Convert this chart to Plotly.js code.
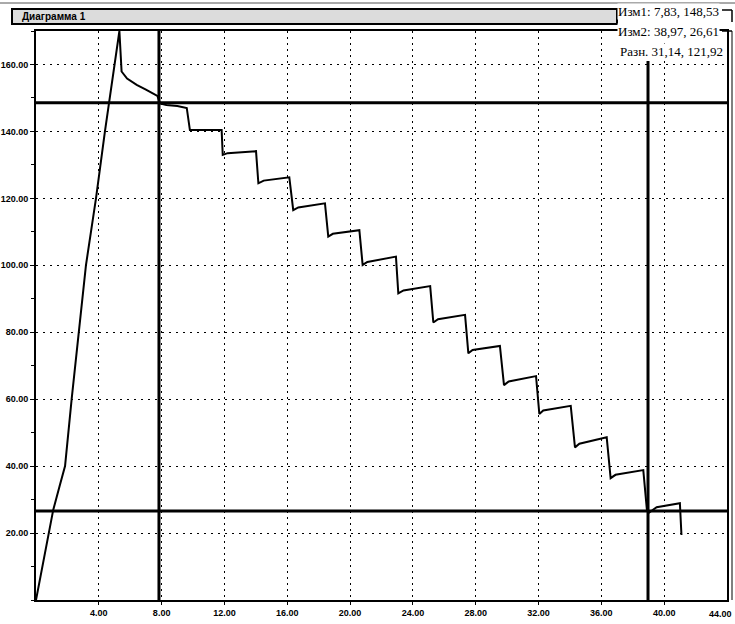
<!DOCTYPE html>
<html>
<head>
<meta charset="utf-8">
<script src="https://cdn.plot.ly/plotly-3.0.1.min.js"></script>
<style>html,body{margin:0;padding:0;background:#fff;}#chart{width:735px;height:624px;}</style>
</head>
<body>
<div id="chart"></div>
<script>
// ---- data ----
const timeVals = [0, 0.4, 0.78, 1.1, 1.5, 1.85, 2.27, 2.74, 3.18, 3.82, 4.39, 5.31, 5.45, 5.8, 6.41, 7.0, 7.47, 7.73, 7.9, 8.3, 9.0, 9.6, 9.8, 11.82, 11.89, 12.2, 14.01, 14.16, 14.5, 16.13, 16.38, 16.7, 18.4, 18.61, 18.9, 20.59, 20.8, 21.1, 22.92, 23.07, 23.4, 25.1, 25.3, 25.6, 27.32, 27.53, 27.8, 29.54, 29.8, 30.1, 31.84, 32.05, 32.3, 34.05, 34.32, 34.6, 36.34, 36.59, 36.9, 38.67, 38.9, 39.0, 39.52, 41.0, 41.1];
const forceVals = [0, 10, 20, 27, 34, 40, 60, 80, 100, 120, 140, 170, 157.9, 155.8, 153.9, 152.5, 151.4, 150.6, 148.4, 147.9, 147.6, 147.0, 140.4, 140.4, 133.0, 133.5, 134.1, 124.5, 125.3, 126.3, 116.5, 117.3, 118.5, 108.6, 109.4, 110.5, 100.1, 101.0, 102.6, 91.6, 92.5, 93.8, 82.9, 83.9, 85.2, 73.7, 74.7, 75.9, 64.2, 65.3, 66.9, 55.6, 56.6, 58.0, 45.6, 46.7, 48.6, 36.4, 37.4, 38.8, 26.9, 26.0, 27.7, 28.9, 19.4];
const cursorX = [7.83, 38.97];
const cursorY = [148.53, 26.61];
const cursorNames = ['Изм1', 'Изм2', 'Разн.'];
const xTicks = [4, 8, 12, 16, 20, 24, 28, 32, 36, 40, 44];
const yTicks = [20, 40, 60, 80, 100, 120, 140, 160];
const chartTitle = 'Диаграмма 1';

// ---- geometry helpers (pixel -> paper) ----
const L = 36, R = 727, T = 31, B = 600;
const px = x => (x - L) / (R - L);
const py = y => (B - y) / (B - T);
const fmt = v => v.toFixed(2).replace('.', ',');

const trace = {
  x: timeVals, y: forceVals, type: 'scatter', mode: 'lines',
  line: {color: '#000', width: 2}, hoverinfo: 'skip', cliponaxis: true
};

const blk = '#000';
const shapes = [
  {type: 'line', xref: 'x', yref: 'y', x0: cursorX[0], x1: cursorX[0], y0: 0, y1: 170, line: {color: blk, width: 3}},
  {type: 'line', xref: 'x', yref: 'y', x0: cursorX[1], x1: cursorX[1], y0: 0, y1: 161, line: {color: blk, width: 3}},
  {type: 'line', xref: 'paper', yref: 'y', x0: 0, x1: 1, y0: cursorY[0], y1: cursorY[0], line: {color: blk, width: 3}},
  {type: 'line', xref: 'paper', yref: 'y', x0: 0, x1: 1, y0: cursorY[1], y1: cursorY[1], line: {color: blk, width: 3}},
  {type: 'rect', xref: 'paper', yref: 'paper', x0: px(12), x1: px(617), y0: py(24), y1: py(9), line: {color: blk, width: 2}, fillcolor: '#dcdcdc', layer: 'above'},
  {type: 'line', xref: 'paper', yref: 'paper', x0: px(0), x1: px(735), y0: py(3), y1: py(3), line: {color: '#555', width: 1}},
  {type: 'line', xref: 'paper', yref: 'paper', x0: px(722), x1: px(732), y0: py(10), y1: py(10), line: {color: blk, width: 1.5}},
  {type: 'line', xref: 'paper', yref: 'paper', x0: px(732), x1: px(732), y0: py(10), y1: py(22), line: {color: blk, width: 1.5}},
  {type: 'line', xref: 'paper', yref: 'paper', x0: px(722), x1: px(732), y0: py(31), y1: py(31), line: {color: blk, width: 1.5}},
  {type: 'line', xref: 'paper', yref: 'paper', x0: px(732), x1: px(732), y0: py(31), y1: py(600), line: {color: blk, width: 1}}
];

const dx = cursorX[1] - cursorX[0];
const dy = cursorY[0] - cursorY[1];
const lblFont = {family: 'Liberation Serif, Times New Roman, serif', size: 13, color: blk};
const tickFont = {family: 'Liberation Sans, Arial, sans-serif', size: 9, color: blk, weight: 'bold'};
const annotations = [
  {xref: 'paper', yref: 'paper', x: px(20), y: py(16), xanchor: 'left', yanchor: 'middle', showarrow: false,
   text: chartTitle, font: {family: 'Liberation Sans, Arial, sans-serif', size: 10, color: blk, weight: 'bold'}},
  {xref: 'paper', yref: 'paper', x: px(617), y: py(11), xanchor: 'left', yanchor: 'middle', showarrow: false,
   text: cursorNames[0] + ': ' + fmt(cursorX[0]) + ', ' + fmt(cursorY[0]), font: lblFont, bgcolor: '#fff', borderpad: 0},
  {xref: 'paper', yref: 'paper', x: px(617), y: py(32), xanchor: 'left', yanchor: 'middle', showarrow: false,
   text: cursorNames[1] + ': ' + fmt(cursorX[1]) + ', ' + fmt(cursorY[1]), font: lblFont, bgcolor: '#fff', borderpad: 0},
  {xref: 'paper', yref: 'paper', x: px(619), y: py(52), xanchor: 'left', yanchor: 'middle', showarrow: false,
   text: cursorNames[2] + ' ' + fmt(dx) + ', ' + fmt(dy), font: lblFont, bgcolor: '#fff', borderpad: 0},
  {xref: 'paper', yref: 'paper', x: px(734), y: py(614), xanchor: 'right', yanchor: 'middle', showarrow: false,
   text: xTicks[xTicks.length - 1].toFixed(2), font: tickFont}
];

const layout = {
  width: 735, height: 624,
  margin: {l: L, r: 735 - R, t: T, b: 624 - B, pad: 0},
  paper_bgcolor: '#fff', plot_bgcolor: '#fff',
  showlegend: false,
  xaxis: {
    range: [0, 44], tickvals: xTicks.slice(0, -1), ticktext: xTicks.slice(0, -1).map(v => v.toFixed(2)),
    showgrid: true, gridcolor: '#000', gridwidth: 1, griddash: '2px,4px',
    zeroline: false, showline: true, linecolor: blk, linewidth: 2, mirror: true,
    ticks: 'outside', ticklen: 3, tickcolor: blk, tickfont: tickFont, fixedrange: true
  },
  yaxis: {
    range: [0, 170], tickvals: yTicks, ticktext: yTicks.map(v => v.toFixed(2)),
    showgrid: true, gridcolor: '#000', gridwidth: 1, griddash: '2px,5px',
    zeroline: false, showline: true, linecolor: blk, linewidth: 2, mirror: true,
    ticks: 'outside', ticklen: 4, tickcolor: blk, tickfont: tickFont,
    minor: {dtick: 10, ticks: 'outside', ticklen: 3, tickcolor: blk, showgrid: false},
    fixedrange: true
  },
  shapes: shapes,
  annotations: annotations
};

Plotly.newPlot('chart', [trace], layout, {staticPlot: true, displayModeBar: false});
</script>
</body>
</html>
